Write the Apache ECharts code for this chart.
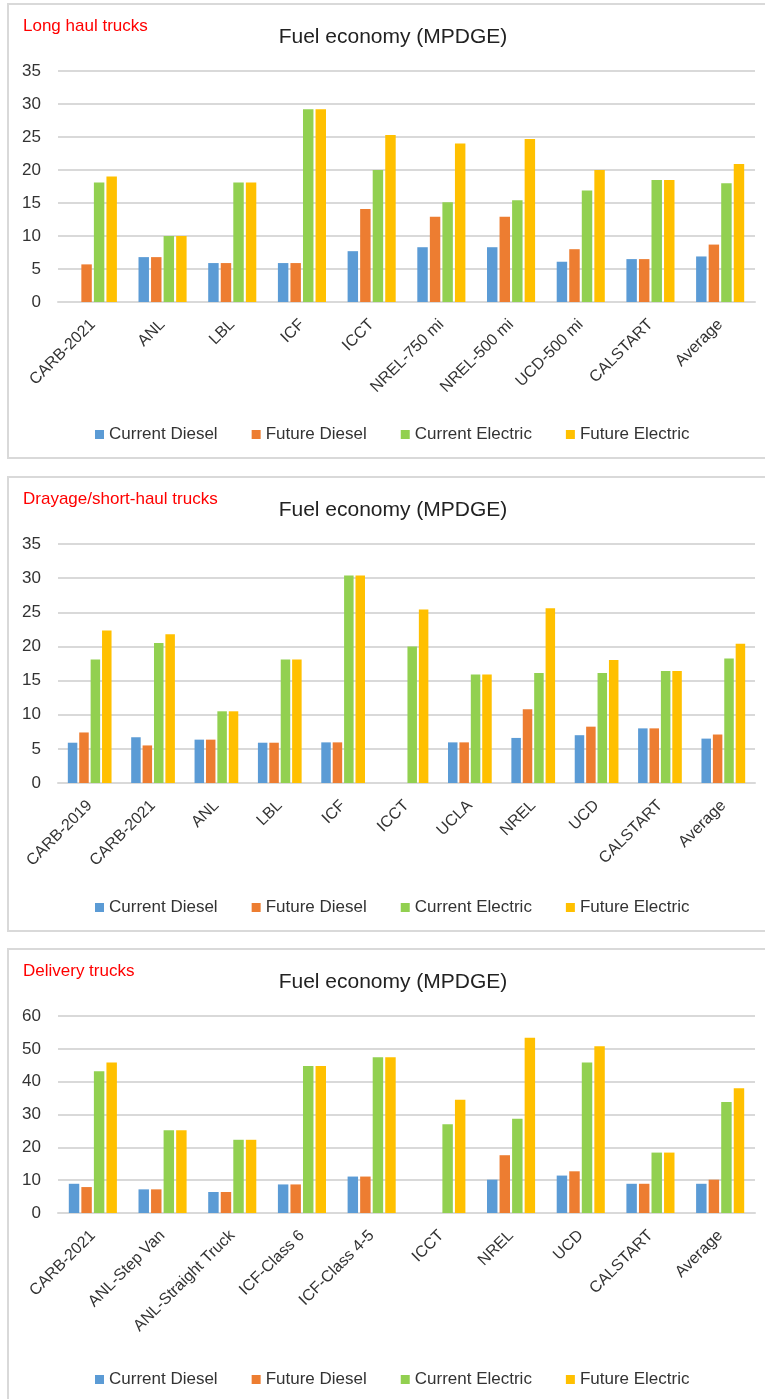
<!DOCTYPE html>
<html>
<head>
<meta charset="utf-8">
<script src="https://cdn.jsdelivr.net/npm/echarts@6/dist/echarts.min.js"></script>
<style>
html, body { margin: 0; padding: 0; background: #fff; overflow: hidden; }
body { width: 765px; height: 1399px; position: relative; }
.panel { position: absolute; left: 7px; width: 780px; height: 456px; border: 2px solid #d9d9d9; box-sizing: border-box; }
#p1 { top: 3px; }
#p2 { top: 476px; }
#p3 { top: 948px; height: 470px; }
</style>
</head>
<body>
<div id="p1" class="panel"></div>
<div id="p2" class="panel"></div>
<div id="p3" class="panel"></div>
<script>
var seriesNames = ['Current Diesel', 'Future Diesel', 'Current Electric', 'Future Electric']
var colors = ['#5B9BD5', '#ED7D31', '#92D050', '#FFC000']

// Long haul trucks
var longCats = ['CARB-2021', 'ANL', 'LBL', 'ICF', 'ICCT', 'NREL-750 mi', 'NREL-500 mi', 'UCD-500 mi', 'CALSTART', 'Average']
var longCurDiesel = [null, 6.8, 5.9, 5.9, 7.7, 8.3, 8.3, 6.1, 6.5, 6.9]
var longFutDiesel = [5.7, 6.8, 5.9, 5.9, 14.1, 12.9, 12.9, 8.0, 6.5, 8.7]
var longCurElec = [18.1, 10.0, 18.1, 29.2, 20.0, 15.1, 15.4, 16.9, 18.5, 18.0]
var longFutElec = [19.0, 10.0, 18.1, 29.2, 25.3, 24.0, 24.7, 20.0, 18.5, 20.9]

// Drayage / short-haul trucks
var drayCats = ['CARB-2019', 'CARB-2021', 'ANL', 'LBL', 'ICF', 'ICCT', 'UCLA', 'NREL', 'UCD', 'CALSTART', 'Average']
var drayCurDiesel = [5.9, 6.7, 6.35, 5.9, 5.95, null, 5.95, 6.6, 7.0, 8.0, 6.5]
var drayFutDiesel = [7.4, 5.5, 6.35, 5.9, 5.95, null, 5.95, 10.8, 8.25, 8.0, 7.1]
var drayCurElec = [18.1, 20.5, 10.5, 18.1, 30.4, 20.0, 15.9, 16.1, 16.1, 16.4, 18.25]
var drayFutElec = [22.35, 21.8, 10.5, 18.1, 30.4, 25.4, 15.9, 25.6, 18.0, 16.4, 20.4]

// Delivery trucks
var delivCats = ['CARB-2021', 'ANL-Step Van', 'ANL-Straight Truck', 'ICF-Class 6', 'ICF-Class 4-5', 'ICCT', 'NREL', 'UCD', 'CALSTART', 'Average']
var delivCurDiesel = [8.9, 7.2, 6.4, 8.7, 11.1, null, 10.15, 11.4, 8.9, 8.9]
var delivFutDiesel = [7.9, 7.2, 6.4, 8.7, 11.1, null, 17.6, 12.7, 8.9, 10.15]
var delivCurElec = [43.2, 25.2, 22.3, 44.8, 47.4, 27.0, 28.7, 45.8, 18.4, 33.8]
var delivFutElec = [45.8, 25.2, 22.3, 44.8, 47.4, 34.5, 53.4, 50.8, 18.4, 38.0]

var fontFam = 'Liberation Sans'

function makeChart(id, label, cats, values, yMax, yInterval, gridTop, gridHeight) {
    var chart = echarts.init(document.getElementById(id))
    var series = []
    for (var i = 0; i < seriesNames.length; i++) {
        series.push({
            name: seriesNames[i],
            type: 'bar',
            data: values[i],
            barGap: '20%',
            barCategoryGap: '31%',
            itemStyle: { color: colors[i] }
        })
    }
    var option = {
        animation: false,
        color: colors,
        textStyle: { fontFamily: fontFam },
        title: [
            {
                text: label,
                left: 9, top: 8,
                textStyle: { color: '#ff0000', fontSize: 17, fontWeight: 'normal', fontFamily: fontFam }
            },
            {
                text: 'Fuel economy (MPDGE)',
                left: 379, top: 17, textAlign: 'center',
                textStyle: { color: '#222', fontSize: 21, fontWeight: 'normal', fontFamily: fontFam }
            }
        ],
        legend: {
            data: seriesNames,
            left: 81, top: 416,
            icon: 'rect',
            itemWidth: 9, itemHeight: 9,
            itemGap: 34,
            textStyle: { fontSize: 17, color: '#333', fontFamily: fontFam }
        },
        grid: { left: 49, top: gridTop, width: 697, height: gridHeight },
        xAxis: {
            type: 'category',
            data: cats,
            axisLine: { lineStyle: { color: '#d9d9d9', width: 2 } },
            axisTick: { show: false },
            axisLabel: { rotate: 45, fontSize: 16, color: '#333', margin: 20, interval: 0, fontFamily: fontFam }
        },
        yAxis: {
            type: 'value',
            min: 0, max: yMax, interval: yInterval,
            axisLine: { show: false },
            axisTick: { show: false },
            splitLine: { lineStyle: { color: '#d9d9d9', width: 2 } },
            axisLabel: { fontSize: 17, color: '#333', margin: 17, fontFamily: fontFam }
        },
        series: series
    }
    chart.setOption(option)
    return chart
}

makeChart('p1', 'Long haul trucks', longCats,
    [longCurDiesel, longFutDiesel, longCurElec, longFutElec], 35, 5, 66, 231)
makeChart('p2', 'Drayage/short-haul trucks', drayCats,
    [drayCurDiesel, drayFutDiesel, drayCurElec, drayFutElec], 35, 5, 66, 239)
makeChart('p3', 'Delivery trucks', delivCats,
    [delivCurDiesel, delivFutDiesel, delivCurElec, delivFutElec], 60, 10, 66, 197)
</script>
</body>
</html>
